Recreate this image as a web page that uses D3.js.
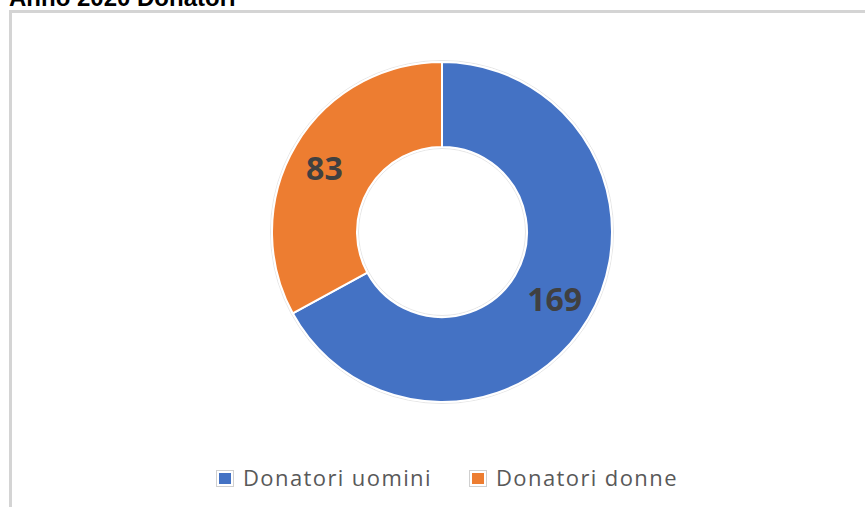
<!DOCTYPE html>
<html><head><meta charset="utf-8">
<script src="https://cdn.jsdelivr.net/npm/d3@7"></script>
<style>html,body{margin:0;padding:0;background:#fff;overflow:hidden}</style>
</head><body>
<script>
const categories = ["Donatori uomini", "Donatori donne"];
const values = [169, 83];
const colors = ["#4472C4", "#ED7D31"];
const title = "Anno 2020 Donatori";

const W = 865, H = 507;
const svg = d3.select("body").append("svg").attr("width", W).attr("height", H);

svg.append("text").attr("x", 9).attr("y", 6)
  .attr("font-family", "Liberation Sans, Arial, sans-serif").attr("font-weight", "bold")
  .attr("font-size", 24).attr("fill", "#000").text(title);

svg.append("rect").attr("x", 10.5).attr("y", 11.5).attr("width", 900).attr("height", 600)
  .attr("fill", "#fff").attr("stroke", "#d4d4d4").attr("stroke-width", 3);

const cx = 442, cy = 232, R = 170, r = 85;
const g = svg.append("g").attr("transform", `translate(${cx},${cy})`);
const pie = d3.pie().sort(null).value(d => d)(values);
const arc = d3.arc().innerRadius(r).outerRadius(R);

g.append("circle").attr("r", R + 1.5).attr("fill", "none").attr("stroke", "#e6e6e6").attr("stroke-width", 1);
g.append("circle").attr("r", r - 1.5).attr("fill", "none").attr("stroke", "#e6e6e6").attr("stroke-width", 1);

g.selectAll("path.s").data(pie).join("path").attr("class", "s")
  .attr("d", arc).attr("fill", (d, i) => colors[i])
  .attr("stroke", "#fff").attr("stroke-width", 2);

g.selectAll("text.l").data(pie).join("text").attr("class", "l")
  .attr("transform", d => { const c = arc.centroid(d); return `translate(${c[0] + (d.index===1?-8:3)},${c[1]+1})`; })
  .attr("text-anchor", "middle").attr("dominant-baseline", "central")
  .attr("font-family", "Noto Sans, sans-serif").attr("font-weight", "bold")
  .attr("font-size", 32).attr("fill", "#404040").text(d => d.data);

const legendX = [216, 469];
const lg = svg.selectAll("g.lg").data(categories).join("g").attr("class", "lg")
  .attr("transform", (d, i) => `translate(${legendX[i]},470)`);
lg.append("rect").attr("x", 0.5).attr("y", 0.5).attr("width", 17).attr("height", 16)
  .attr("fill", "#fff").attr("stroke", "#d0d0d0");
lg.append("rect").attr("x", 3).attr("y", 3).attr("width", 12).attr("height", 11)
  .attr("fill", (d, i) => colors[i]);
lg.append("text").attr("x", 27).attr("y", 15.5)
  .attr("font-family", "Open Sans, sans-serif").attr("font-size", 22)
  .attr("letter-spacing", 1.4)
  .attr("fill", "#595959").text(d => d);
</script>
</body></html>
